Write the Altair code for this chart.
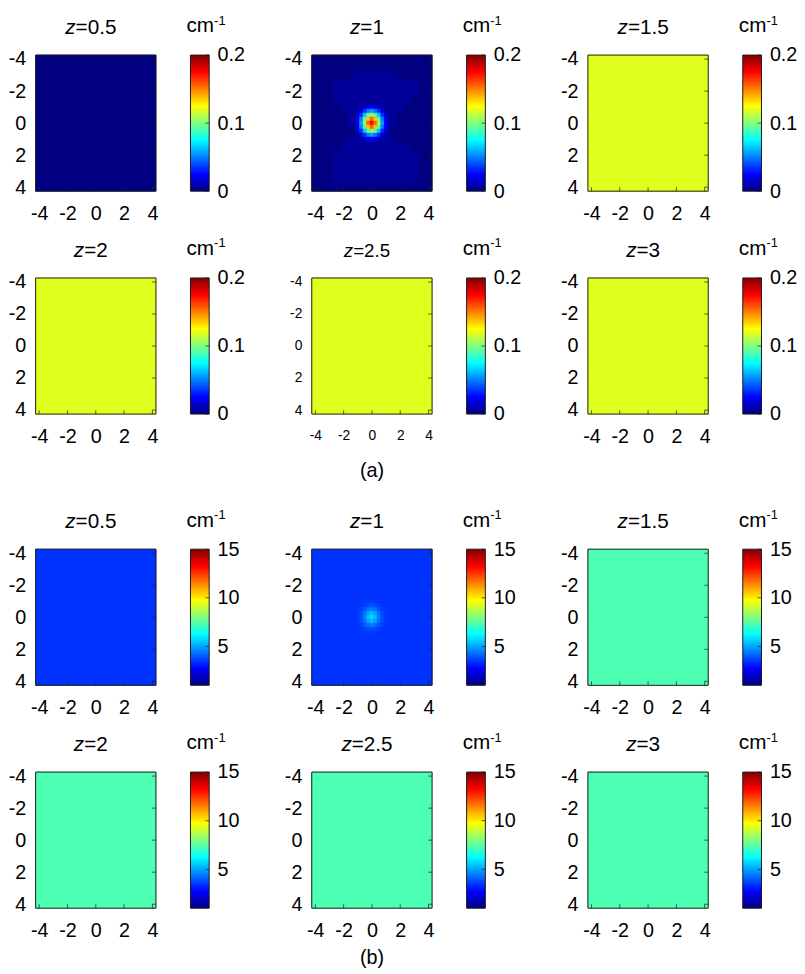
import altair as alt
import pandas as pd

FONT = "Liberation Sans"

# ---------------- data ----------------
TICKS = [-4, -2, 0, 2, 4]
CELL_CENTERS = [-4.0, -3.5, -3.0, -2.5, -2.0, -1.5, -1.0, -0.5, 0.0,
                0.5, 1.0, 1.5, 2.0, 2.5, 3.0, 3.5, 4.0]
CELL = 0.5
PATCH_CENTERS = [-1.0, -0.75, -0.5, -0.25, 0.0, 0.25, 0.5, 0.75, 1.0]
PATCH_CELL = 0.25

Z_LABELS = ["0.5", "1", "1.5", "2", "2.5", "3"]

# jet colour map
JET_T = [0.0, 0.125, 0.375, 0.625, 0.875, 1.0]
JET_COLORS = ["#000080", "#0000ff", "#00ffff", "#ffff00", "#ff0000", "#800000"]

# (a)
A_RANGE = [0.0, 0.2]
A_CBAR_TICKS = [0, 0.1, 0.2]
A_UNIFORM = [0.0, 0.0, 0.119, 0.119, 0.119, 0.119]
A_MASK_VALUE = 0.005
A_MASK = [
    ".................",
    ".................",
    "......######.....",
    "...############..",
    "...############..",
    "...###########...",
    "....#########....",
    ".....#######.....",
    ".....#######.....",
    "......#####......",
    ".....#######.....",
    "....##########...",
    "...############..",
    "...############..",
    "...############..",
    "...############..",
    ".................",
]
A_BLOB = [
    [0.006, 0.008, 0.014, 0.021, 0.024, 0.021, 0.014, 0.008, 0.006],
    [0.008, 0.018, 0.034, 0.050, 0.057, 0.050, 0.034, 0.018, 0.008],
    [0.014, 0.034, 0.064, 0.094, 0.106, 0.094, 0.064, 0.034, 0.014],
    [0.021, 0.050, 0.094, 0.136, 0.154, 0.136, 0.094, 0.050, 0.021],
    [0.024, 0.057, 0.106, 0.154, 0.175, 0.154, 0.106, 0.057, 0.024],
    [0.021, 0.050, 0.094, 0.136, 0.154, 0.136, 0.094, 0.050, 0.021],
    [0.014, 0.034, 0.064, 0.094, 0.106, 0.094, 0.064, 0.034, 0.014],
    [0.008, 0.018, 0.034, 0.050, 0.057, 0.050, 0.034, 0.018, 0.008],
    [0.006, 0.008, 0.014, 0.021, 0.024, 0.021, 0.014, 0.008, 0.006],
]

# (b)
B_RANGE = [1.0, 15.0]
B_CBAR_TICKS = [5, 10, 15]
B_UNIFORM = [3.45, 3.45, 7.3, 7.3, 7.3, 7.3]
B_BLOB = [
    [3.45, 3.47, 3.50, 3.53, 3.55, 3.53, 3.50, 3.47, 3.45],
    [3.47, 3.50, 3.63, 3.78, 3.84, 3.78, 3.63, 3.50, 3.47],
    [3.50, 3.63, 3.93, 4.32, 4.51, 4.32, 3.93, 3.63, 3.50],
    [3.53, 3.78, 4.32, 5.01, 5.34, 5.01, 4.32, 3.78, 3.53],
    [3.55, 3.84, 4.51, 5.34, 5.75, 5.34, 4.51, 3.84, 3.55],
    [3.53, 3.78, 4.32, 5.01, 5.34, 5.01, 4.32, 3.78, 3.53],
    [3.50, 3.63, 3.93, 4.32, 4.51, 4.32, 3.93, 3.63, 3.50],
    [3.47, 3.50, 3.63, 3.78, 3.84, 3.78, 3.63, 3.50, 3.47],
    [3.45, 3.47, 3.50, 3.53, 3.55, 3.53, 3.50, 3.47, 3.45],
]

PARTS = {
    "a": dict(rng=A_RANGE, cticks=A_CBAR_TICKS, uniform=A_UNIFORM,
              mask=A_MASK, mask_value=A_MASK_VALUE, blob=A_BLOB,
              label="(a)", label_dy=64),
    "b": dict(rng=B_RANGE, cticks=B_CBAR_TICKS, uniform=B_UNIFORM,
              mask=None, mask_value=None, blob=B_BLOB,
              label="(b)", label_dy=57),
}

# ---------------- layout ----------------
W, H = 122, 138          # heat-map plot area
CB_W = 19                # colour-bar width
GAP_CB = 35              # heat map -> colour bar
PANEL_W = W + GAP_CB + CB_W
GAP_PANEL = 104
ROW_GAP = 88
PART_EXTRA = 49          # extra space between (a) and (b)
LABEL_FS = 20
TITLE_FS = 21
EDGE_LO = CELL_CENTERS[0] - CELL / 2
EDGE_HI = CELL_CENTERS[-1] + CELL / 2

CHAR_W = {"z": 0.5, "=": 0.584, ".": 0.278}


def text_width(s, fs):
    return fs * sum(CHAR_W.get(c, 0.556) for c in s)


def color_scale(rng):
    lo, hi = rng
    return alt.Scale(domain=[lo + t * (hi - lo) for t in JET_T],
                     range=JET_COLORS, interpolate="rgb", clamp=True)


def cells(p, i):
    rows = [dict(x0=EDGE_LO, x1=EDGE_HI, y0=EDGE_LO, y1=EDGE_HI,
                 v=p["uniform"][i], o=0)]
    if Z_LABELS[i] == "1":
        if p["mask"] is not None:
            for j, line in enumerate(p["mask"]):
                for k, ch in enumerate(line):
                    if ch == "#":
                        cx, cy = CELL_CENTERS[k], CELL_CENTERS[j]
                        rows.append(dict(x0=cx - CELL / 2, x1=cx + CELL / 2,
                                         y0=cy - CELL / 2, y1=cy + CELL / 2,
                                         v=p["mask_value"], o=1))
        for j, line in enumerate(p["blob"]):
            for k, val in enumerate(line):
                cx, cy = PATCH_CENTERS[k], PATCH_CENTERS[j]
                rows.append(dict(x0=cx - PATCH_CELL / 2, x1=cx + PATCH_CELL / 2,
                                 y0=cy - PATCH_CELL / 2, y1=cy + PATCH_CELL / 2,
                                 v=val, o=2))
    return pd.DataFrame(rows)


LABEL_EXPR = "datum.value < 0 ? '-' + abs(datum.value) : '' + datum.value"


def heat_layer(key, i, top):
    p = PARTS[key]
    small = (key == "a" and i == 4)
    lfs = 14 if small else LABEL_FS
    tfs = 19 if small else TITLE_FS
    xs = alt.Scale(domain=[EDGE_LO, EDGE_HI], range=[0, W], nice=False, zero=False)
    ys = alt.Scale(domain=[EDGE_LO, EDGE_HI], range=[top, top + H],
                   nice=False, zero=False)
    xa = alt.Axis(values=TICKS, title=None, grid=False, ticks=False, domain=False,
                  labelFontSize=lfs, labelPadding=15 if small else 13,
                  labelExpr=LABEL_EXPR, labelFlush=False, labelOverlap=False)
    ya = alt.Axis(values=TICKS, title=None, grid=False, ticks=False, domain=False,
                  labelFontSize=lfs, labelPadding=10,
                  labelExpr=LABEL_EXPR, labelFlush=False, labelOverlap=False)
    cs = color_scale(p["rng"])
    rect = alt.Chart(cells(p, i)).mark_rect(strokeWidth=0.6).encode(
        x=alt.X("x0:Q", scale=xs, axis=xa),
        x2="x1:Q",
        y=alt.Y("y0:Q", scale=ys, axis=ya),
        y2="y1:Q",
        color=alt.Color("v:Q", scale=cs, legend=None),
        stroke=alt.Stroke("v:Q", scale=cs, legend=None),
        order=alt.Order("o:Q"),
    )
    tdf = pd.DataFrame({"t": TICKS})
    tb = alt.Chart(tdf).mark_tick(size=4, thickness=1, color="#222222").encode(
        x=alt.X("t:Q", scale=xs, axis=xa), y=alt.value(top + H - 2))
    tr = alt.Chart(tdf).mark_tick(size=4, thickness=1, color="#222222").encode(
        y=alt.Y("t:Q", scale=ys, axis=ya), x=alt.value(W - 2))
    frame = alt.Chart(pd.DataFrame({"k": [0]})).mark_rect(
        fillOpacity=0, stroke="#1a1a1a", strokeWidth=1).encode(
        x=alt.value(0), x2=alt.value(W), y=alt.value(top), y2=alt.value(top + H))

    rest = "=" + Z_LABELS[i]
    full_w = text_width("z" + rest, tfs)
    left = 56 - full_w / 2
    tdata = pd.DataFrame({"z": ["z"], "rest": [rest]})
    t1 = alt.Chart(tdata).mark_text(
        font=FONT, fontSize=tfs, fontStyle="italic", align="left",
        baseline="alphabetic", color="black").encode(
        text="z:N", x=alt.value(left), y=alt.value(top - 21))
    t2 = alt.Chart(tdata).mark_text(
        font=FONT, fontSize=tfs, align="left", baseline="alphabetic",
        color="black").encode(
        text="rest:N", x=alt.value(left + text_width("z", tfs)),
        y=alt.value(top - 21))
    layers = [rect, tb, tr, frame, t1, t2]
    if i == 4:
        ldf = pd.DataFrame({"lab": [p["label"]]})
        layers.append(alt.Chart(ldf).mark_text(
            font=FONT, fontSize=20, align="center", baseline="alphabetic",
            color="black").encode(text="lab:N", x=alt.value(W / 2),
                                  y=alt.value(top + H + p["label_dy"])))
    return alt.layer(*layers)


def cbar_layer(key, top):
    p = PARTS[key]
    lo, hi = p["rng"]
    ys = alt.Scale(domain=[lo, hi], range=[top + H, top], nice=False, zero=False)
    ya = alt.Axis(values=p["cticks"], orient="right", title=None, grid=False,
                  ticks=False, domain=False, labelFontSize=LABEL_FS, labelPadding=8,
                  labelExpr="'' + datum.value", labelFlush=False, labelOverlap=False)
    grad = alt.Gradient(
        gradient="linear",
        stops=[alt.GradientStop(offset=t, color=c) for t, c in zip(JET_T, JET_COLORS)],
        x1=0, x2=0, y1=1, y2=0)
    x_left = W + GAP_CB
    bar = alt.Chart(pd.DataFrame({"lo": [lo], "hi": [hi]})).mark_rect(
        fill=grad, stroke="#1a1a1a", strokeWidth=1).encode(
        y=alt.Y("lo:Q", scale=ys, axis=ya),
        y2="hi:Q", x=alt.value(x_left), x2=alt.value(x_left + CB_W))
    ticks = alt.Chart(pd.DataFrame({"t": p["cticks"]})).mark_tick(
        size=4, thickness=1, color="#222222").encode(
        y=alt.Y("t:Q", scale=ys, axis=ya), x=alt.value(x_left + CB_W - 2))
    udf = pd.DataFrame({"u": ["cm"], "s": ["-1"]})
    u1 = alt.Chart(udf).mark_text(font=FONT, fontSize=21, align="left",
                                  baseline="alphabetic", color="black").encode(
        text="u:N", x=alt.value(x_left - 4), y=alt.value(top - 23))
    u2 = alt.Chart(udf).mark_text(font=FONT, fontSize=13, align="left",
                                  baseline="alphabetic", color="black").encode(
        text="s:N", x=alt.value(x_left - 4 + 1.333 * 21), y=alt.value(top - 31))
    return alt.layer(bar, ticks, u1, u2)


def panel(key, i):
    top = PART_EXTRA if (key == "b" and i < 3) else 0
    return alt.layer(heat_layer(key, i, top), cbar_layer(key, top)).resolve_scale(
        y="independent").resolve_axis(y="independent").properties(
        width=PANEL_W, height=top + H)


panels = [panel("a", i) for i in range(6)] + [panel("b", i) for i in range(6)]
chart = alt.concat(*panels, columns=3,
                   spacing={"row": ROW_GAP, "column": GAP_PANEL},
                   bounds="flush").resolve_scale(
    x="independent", y="independent", color="independent", stroke="independent")
chart = chart.properties(
    padding={"left": 0, "top": 0, "right": 0, "bottom": 0},
    background="white",
).configure_view(stroke=None).configure_axis(
    labelFont=FONT, labelColor="black"
).configure_text(font=FONT)

chart.save("out.html", embed_options={"renderer": "svg", "actions": False})
